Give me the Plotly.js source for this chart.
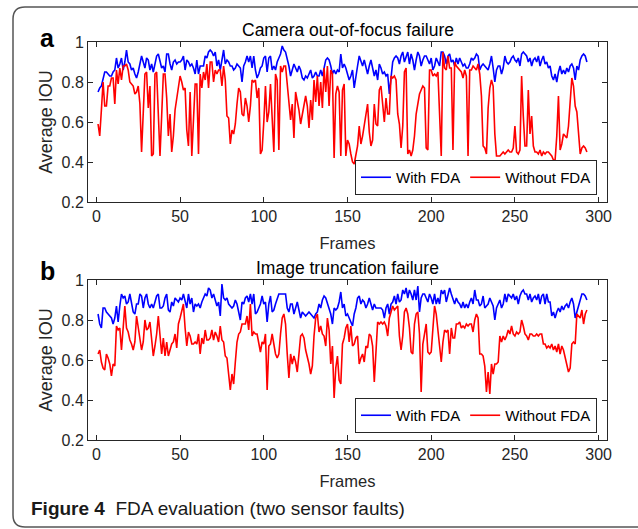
<!DOCTYPE html>
<html>
<head>
<meta charset="utf-8">
<script src="https://cdn.plot.ly/plotly-3.0.1.min.js"></script>
<style>html,body{margin:0;padding:0;background:#fff;}#chart{width:638px;height:529px;}</style>
</head>
<body>
<div id="chart"></div>
<script>
// ---- Data (Average IOU per frame) ----
const seriesNames = ['With FDA', 'Without FDA'];
const panelTitles = ['Camera out-of-focus failure', 'Image truncation failure'];
const panelLetters = ['a', 'b'];
const xTickVals = [0, 50, 100, 150, 200, 250, 300];
const yTickVals = [0.2, 0.4, 0.6, 0.8, 1];
const yTickText = ['0.2', '0.4', '0.6', '0.8', '1'];

// Panel a: camera out-of-focus failure
const focusWithFDA = [
.75,.77,.78,.82,.85,.85,.84,.83,.83,.85,
.86,.92,.87,.89,.92,.86,.90,.96,.90,.89,
.86,.87,.84,.82,.85,.89,.93,.90,.87,.92,
.91,.86,.89,.85,.89,.93,.94,.91,.87,.88,
.85,.94,.94,.89,.86,.90,.91,.89,.90,.90,
.91,.93,.86,.91,.90,.88,.89,.87,.84,.91,
.84,.88,.88,.88,.93,.92,.95,.96,.95,.93,
.95,.88,.91,.86,.91,.96,.89,.91,.90,.88,
.88,.86,.87,.89,.88,.87,.80,.88,.90,.93,
.90,.93,.87,.93,.86,.82,.84,.87,.88,.92,.93,
.85,.92,.93,.86,.88,.86,.90,.92,.94,.98,
.96,.95,.92,.88,.83,.86,.89,.87,.85,.88,
.86,.82,.81,.83,.82,.84,.86,.82,.83,.85,
.83,.83,.86,.83,.88,.91,.92,.91,.88,.84,
.86,.84,.86,.85,.94,.87,.89,.87,.84,.81,
.83,.86,.77,.84,.88,.93,.90,.88,.91,.88,
.84,.88,.91,.87,.83,.86,.81,.89,.87,.84,
.85,.83,.84,.74,.84,.90,.92,.93,.92,.89,
.93,.95,.90,.93,.95,.89,.94,.91,.86,.91,
.95,.93,.88,.91,.93,.93,.91,.89,.92,.86,.88,
.92,.90,.88,.95,.95,.93,.89,.93,.94,.90,
.91,.88,.92,.89,.92,.90,.88,.89,.87,.87,
.89,.92,.91,.92,.94,.93,.86,.88,.89,.88,
.87,.86,.89,.93,.87,.80,.86,.88,.88,.84,
.87,.93,.90,.89,.90,.92,.93,.91,.90,.92,
.88,.94,.95,.94,.93,.90,.92,.88,.91,.92,
.90,.93,.88,.91,.93,.89,.90,.87,.88,.83,
.81,.84,.80,.85,.88,.84,.86,.84,.87,.85,
.88,.89,.87,.81,.88,.86,.91,.93,.94,.93,.90
];
const focusWithoutFDA = [
.59,.53,.66,.80,.68,.68,.78,.78,.82,.82,
.69,.86,.79,.87,.81,.88,.88,.89,.86,.80,
.79,.78,.74,.75,.78,.69,.45,.63,.84,.85,
.67,.78,.43,.44,.84,.85,.61,.43,.63,.84,
.84,.72,.53,.64,.45,.53,.66,.71,.78,.83,
.80,.76,.77,.56,.48,.75,.43,.63,.79,.79,
.44,.84,.77,.85,.81,.89,.77,.90,.90,.80,
.86,.84,.86,.86,.78,.88,.81,.63,.62,.49,
.56,.54,.59,.69,.77,.75,.64,.63,.72,.68,
.60,.68,.81,.80,.81,.72,.77,.44,.46,.60,.78,
.60,.65,.79,.60,.45,.84,.81,.46,.88,.85,
.88,.88,.78,.72,.61,.69,.52,.75,.71,.66,
.59,.64,.69,.73,.68,.57,.71,.61,.81,.70,
.83,.68,.80,.67,.87,.75,.88,.68,.86,.84,
.42,.74,.78,.75,.43,.76,.79,.43,.51,.49,
.44,.40,.39,.43,.48,.58,.49,.53,.59,.64,
.69,.55,.48,.51,.69,.59,.58,.76,.78,.69,
.60,.72,.64,.64,.83,.82,.83,.81,.64,.59,
.47,.58,.85,.87,.44,.46,.43,.46,.53,.64,
.69,.74,.76,.78,.77,.47,.46,.86,.86,.83,
.84,.83,.85,.66,.43,.95,.87,.86,.93,.87,
.87,.46,.90,.88,.87,.86,.85,.82,.86,.83,
.43,.86,.86,.88,.87,.86,.89,.84,.73,.48,
.47,.44,.67,.77,.81,.78,.54,.43,.43,.43,
.44,.45,.44,.45,.46,.45,.45,.47,.58,.45,
.44,.46,.83,.63,.48,.48,.76,.54,.63,.48,
.45,.45,.44,.46,.43,.45,.44,.45,.45,.44,
.43,.41,.41,.53,.73,.46,.49,.54,.53,.52,
.58,.73,.82,.78,.68,.65,.54,.44,.47,.48,.47,.45
];

// Panel b: image truncation failure
const truncWithFDA = [
.83,.78,.76,.86,.86,.84,.83,.82,.81,.78,
.81,.87,.79,.87,.93,.91,.92,.88,.89,.93,
.89,.84,.83,.88,.88,.93,.92,.86,.91,.93,
.88,.86,.88,.86,.89,.92,.93,.86,.86,.87,
.91,.93,.85,.84,.89,.87,.91,.90,.89,.91,
.90,.93,.90,.86,.93,.88,.91,.84,.88,.87,
.88,.86,.89,.91,.93,.92,.96,.95,.91,.93,
.90,.87,.89,.82,.98,.91,.90,.91,.88,.87,
.86,.87,.90,.88,.84,.80,.89,.88,.91,.92,
.89,.93,.88,.93,.83,.84,.86,.88,.92,.88,.89,
.79,.88,.92,.84,.85,.88,.91,.93,.93,.93,
.93,.93,.86,.84,.88,.88,.83,.86,.89,.85,
.81,.84,.83,.82,.83,.84,.83,.82,.81,.83,
.84,.88,.86,.90,.92,.91,.88,.85,.83,.78,
.86,.85,.86,.89,.94,.86,.88,.82,.83,.81,
.79,.77,.83,.86,.91,.92,.88,.90,.89,.86,
.88,.91,.88,.85,.88,.86,.86,.86,.86,.85,
.81,.86,.88,.83,.88,.89,.92,.88,.93,.89,
.90,.95,.93,.96,.91,.95,.93,.90,.95,.90,
.97,.84,.91,.93,.93,.91,.89,.93,.91,.88,
.93,.88,.91,.88,.95,.93,.95,.89,.93,.96,
.93,.90,.88,.91,.89,.88,.86,.89,.86,.88,
.86,.89,.91,.88,.95,.90,.90,.87,.88,.92,
.86,.87,.88,.91,.89,.87,.80,.86,.88,.90,
.86,.88,.93,.89,.93,.92,.91,.93,.90,.92,
.88,.92,.94,.95,.93,.93,.90,.93,.89,.91,
.92,.90,.93,.88,.92,.93,.88,.93,.89,.89,
.82,.84,.81,.84,.86,.84,.87,.85,.87,.88,
.86,.89,.91,.88,.81,.84,.87,.91,.93,.93,.92,.90
];
const truncWithoutFDA = [
.63,.65,.59,.56,.55,.63,.61,.58,.52,.58,
.57,.77,.75,.76,.65,.79,.87,.76,.74,.70,
.68,.65,.69,.82,.76,.71,.65,.69,.80,.75,
.76,.79,.69,.62,.67,.73,.82,.70,.63,.71,
.62,.69,.62,.65,.68,.69,.73,.66,.78,.81,
.84,.88,.76,.67,.74,.72,.68,.68,.69,.68,
.73,.63,.71,.68,.75,.70,.70,.71,.75,.70,
.74,.72,.69,.77,.70,.69,.62,.61,.53,.45,
.53,.48,.59,.69,.73,.74,.78,.78,.78,.82,
.75,.88,.72,.74,.73,.73,.69,.64,.69,.68,.73,
.45,.67,.68,.73,.68,.63,.61,.63,.73,.81,
.83,.78,.63,.51,.63,.58,.62,.59,.54,.63,
.72,.73,.71,.65,.62,.58,.53,.57,.72,.81,
.83,.74,.77,.73,.72,.67,.81,.75,.58,.67,
.41,.56,.62,.50,.48,.68,.71,.76,.78,.69,
.77,.67,.68,.71,.72,.58,.61,.63,.59,.67,
.66,.73,.72,.67,.49,.67,.79,.78,.79,.78,
.79,.77,.72,.81,.84,.87,.85,.86,.87,.72,
.65,.72,.84,.86,.83,.76,.64,.63,.78,.83,
.84,.73,.44,.68,.73,.78,.64,.63,.64,.78,
.87,.83,.76,.67,.59,.69,.75,.74,.75,.63,
.76,.71,.71,.78,.78,.79,.76,.77,.76,.78,
.77,.78,.78,.74,.80,.83,.81,.63,.63,.62,
.57,.44,.54,.43,.58,.53,.58,.58,.59,.72,
.69,.72,.70,.72,.75,.73,.77,.73,.72,.74,
.73,.74,.80,.77,.73,.72,.70,.73,.73,.72,
.72,.73,.72,.73,.73,.68,.68,.66,.67,.66,
.68,.65,.67,.64,.68,.63,.67,.65,.61,.57,
.54,.56,.68,.69,.68,.83,.82,.81,.85,.78,.83,.85
];

// ---- Layout helpers (pixel -> paper) ----
const W = 638, H = 529;
const M = {l: 88, r: 31, t: 42, b: 89};
const PW = W - M.l - M.r, PH = H - M.t - M.b;
const pxX = x => (x - M.l) / PW;
const pxY = y => (H - M.b - y) / PH;

const frames = focusWithFDA.map((_, i) => i + 1);
const FONT = 'Liberation Sans, Arial, Helvetica, sans-serif';
const INK = '#262626';
const colors = ['#0000ff', '#ff0000'];

function mkTrace(y, k, xa, ya, leg) {
  return {
    x: frames, y: y, type: 'scatter', mode: 'lines',
    name: seriesNames[k], xaxis: xa, yaxis: ya, legend: leg, showlegend: true,
    line: {color: colors[k], width: 1.6}
  };
}
const data = [
  mkTrace(focusWithFDA, 0, 'x', 'y', 'legend'),
  mkTrace(focusWithoutFDA, 1, 'x', 'y', 'legend'),
  mkTrace(truncWithFDA, 0, 'x2', 'y2', 'legend2'),
  mkTrace(truncWithoutFDA, 1, 'x2', 'y2', 'legend2')
];

function xAxis(anchor) {
  return {
    anchor: anchor, domain: [0, 1], range: [-5, 305],
    tickvals: xTickVals, ticks: 'inside', ticklen: 5, tickwidth: 1, tickcolor: INK,
    mirror: 'allticks', showline: true, linecolor: INK, linewidth: 1,
    showgrid: false, zeroline: false,
    tickfont: {family: FONT, size: 16, color: INK},
    title: {text: 'Frames', font: {family: FONT, size: 16.5, color: INK}, standoff: 13}
  };
}
function yAxis(anchor, dom) {
  return {
    anchor: anchor, domain: dom, range: [0.2, 1],
    tickvals: yTickVals, ticktext: yTickText, ticks: 'inside', ticklen: 5, tickwidth: 1, tickcolor: INK,
    mirror: 'allticks', showline: true, linecolor: INK, linewidth: 1,
    showgrid: false, zeroline: false,
    tickfont: {family: FONT, size: 16, color: INK},
    title: {text: 'Average IOU', font: {family: FONT, size: 18, color: INK}, standoff: 4}
  };
}
function legendCfg(yBottomPx) {
  return {
    x: pxX(597), xanchor: 'right', y: pxY(yBottomPx), yanchor: 'bottom',
    orientation: 'h', bgcolor: '#ffffff', bordercolor: INK, borderwidth: 1,
    font: {family: FONT, size: 15, color: '#000'}, tracegroupgap: 0
  };
}

// rounded frame round the figure
const L = pxX(13), R = pxX(660), T = pxY(7), B = pxY(527);
const rx = 12 / PW, ry = 12 / PH;
const framePath = `M ${L},${T - ry} Q ${L},${T} ${L + rx},${T} L ${R},${T} L ${R},${B} L ${L + rx},${B} Q ${L},${B} ${L},${B + ry} Z`;

const annotations = [
  {text: panelTitles[0], xref: 'paper', yref: 'paper', x: 0.5, y: pxY(30), xanchor: 'center', yanchor: 'middle', showarrow: false, font: {family: FONT, size: 17.5, color: '#000'}},
  {text: panelTitles[1], xref: 'paper', yref: 'paper', x: 0.5, y: pxY(268), xanchor: 'center', yanchor: 'middle', showarrow: false, font: {family: FONT, size: 17.5, color: '#000'}},
  {text: '<b>' + panelLetters[0] + '</b>', xref: 'paper', yref: 'paper', x: pxX(47), y: pxY(38), xanchor: 'center', yanchor: 'middle', showarrow: false, font: {family: FONT, size: 25, color: '#000'}},
  {text: '<b>' + panelLetters[1] + '</b>', xref: 'paper', yref: 'paper', x: pxX(47), y: pxY(271), xanchor: 'center', yanchor: 'middle', showarrow: false, font: {family: FONT, size: 25, color: '#000'}},
  {text: '<b>Figure 4</b>  FDA evaluation (two sensor faults)', xref: 'paper', yref: 'paper', x: pxX(29), y: pxY(508), xanchor: 'left', yanchor: 'middle', showarrow: false, font: {family: FONT, size: 19, color: '#1a1a1a'}}
];

const layout = {
  width: W, height: H,
  margin: M,
  paper_bgcolor: '#ffffff', plot_bgcolor: '#ffffff',
  font: {family: FONT, color: INK},
  showlegend: true,
  xaxis: xAxis('y'),
  yaxis: yAxis('x', [pxY(202), 1]),
  xaxis2: xAxis('y2'),
  yaxis2: yAxis('x2', [0, pxY(280)]),
  legend: legendCfg(195),
  legend2: legendCfg(433),
  annotations: annotations,
  shapes: [{type: 'path', xref: 'paper', yref: 'paper', path: framePath, line: {color: '#555555', width: 1.5}, fillcolor: 'rgba(0,0,0,0)', layer: 'below'}]
};

Plotly.newPlot('chart', data, layout, {displayModeBar: false, staticPlot: true});
</script>
</body>
</html>
